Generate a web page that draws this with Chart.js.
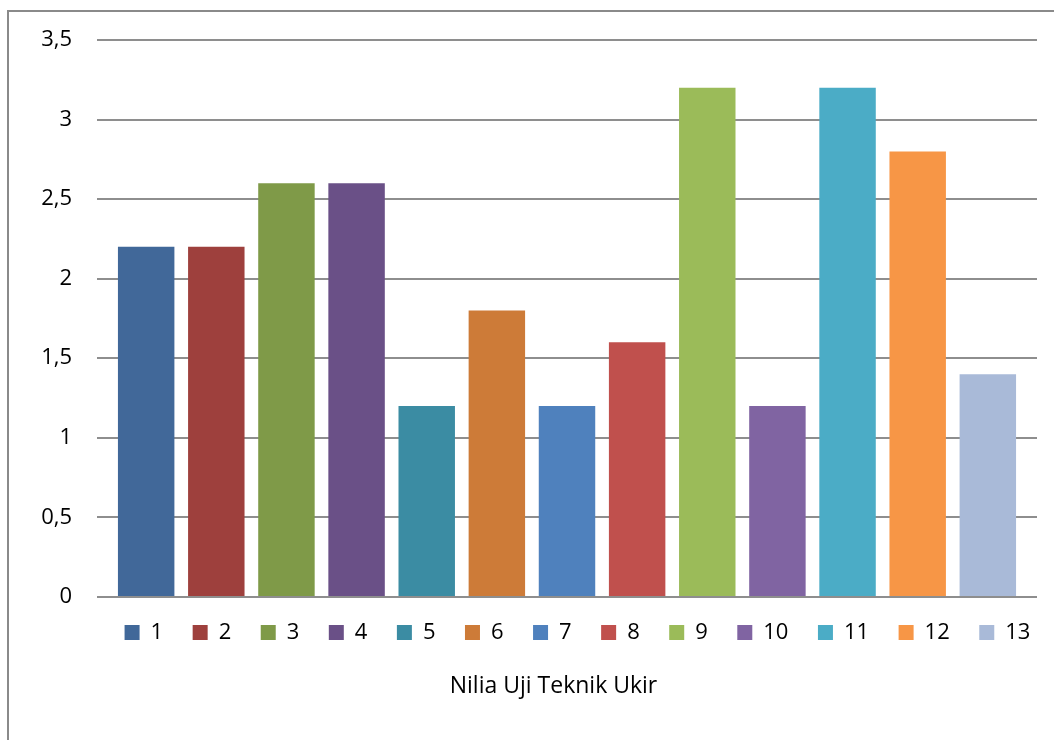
<!DOCTYPE html>
<html>
<head>
<meta charset="utf-8">
<script src="https://cdn.jsdelivr.net/npm/chart.js@4.4.1/dist/chart.umd.min.js"></script>
<style>
    html, body { margin: 0; padding: 0; background: #ffffff; overflow: hidden; }
    #wrap { position: relative; width: 1054px; height: 740px; }
    #frame {
        position: absolute; left: 7px; top: 10px; width: 1200px; height: 900px;
        border: 2px solid #8a8a8a; pointer-events: none;
    }
    canvas { position: absolute; left: 0; top: 0; }
</style>
</head>
<body>
<div id="wrap">
    <canvas id="barChart" width="1054" height="740"></canvas>
    <div id="frame"></div>
</div>
<script>
// Chart data
const seriesNames = ['1', '2', '3', '4', '5', '6', '7', '8', '9', '10', '11', '12', '13'];
const seriesValues = [2.2, 2.2, 2.6, 2.6, 1.2, 1.8, 1.2, 1.6, 3.2, 1.2, 3.2, 2.8, 1.4];
const seriesColors = ['#416899', '#9e403d', '#7f9a48', '#6a5087', '#3b8ca3', '#cd7b38', '#4f81bd',
    '#c0504d', '#9bbb59', '#8064a2', '#4bacc6', '#f79646', '#a9bad8'];
const yTicks = [0, 0.5, 1, 1.5, 2, 2.5, 3, 3.5];
const chartTitle = 'Nilia Uji Teknik Ukir';

const fontFamily = "'Open Sans', 'DejaVu Sans', sans-serif";

// one dataset per series, all in a single category (Excel style)
const datasets = seriesNames.map((name, i) => ({
    label: name,
    data: [seriesValues[i]],
    backgroundColor: seriesColors[i],
    borderWidth: 0,
    barPercentage: 0.805,
    categoryPercentage: 0.97
}));

// shift legend and title to where the original sits (frame is wider than the page)
const boxNudge = {
    id: 'boxNudge',
    afterLayout(chart) {
        const lg = chart.legend;
        lg.left += 59;
        lg.right += 59;
        lg.top -= 5;
        lg.bottom -= 5;
        const tt = chart.titleBlock;
        if (tt) {
            tt.left += 35;
            tt.right += 35;
        }
    }
};

const config = {
    type: 'bar',
    data: {
        labels: [''],
        datasets: datasets
    },
    options: {
        responsive: false,
        animation: false,
        layout: {
            padding: { top: 40, right: 17, bottom: 40, left: 0 }
        },
        plugins: {
            legend: {
                position: 'bottom',
                labels: {
                    boxWidth: 15,
                    boxHeight: 15,
                    padding: 29.5,
                    color: '#000000',
                    font: { family: fontFamily, size: 22 }
                }
            },
            title: {
                display: true,
                position: 'bottom',
                text: chartTitle,
                color: '#000000',
                font: { family: fontFamily, size: 23, weight: 'normal' },
                padding: { top: 14, bottom: 0 }
            },
            tooltip: { enabled: false }
        },
        scales: {
            x: {
                display: false
            },
            y: {
                min: 0,
                max: 3.5,
                afterFit(scale) { scale.width = 97; },
                afterBuildTicks(scale) { scale.ticks = yTicks.map(v => ({ value: v })); },
                border: { display: false },
                grid: {
                    color: '#8e8e8e',
                    lineWidth: 2,
                    drawTicks: false
                },
                ticks: {
                    padding: 25,
                    color: '#000000',
                    font: { family: fontFamily, size: 22 },
                    callback: v => String(v).replace('.', ',')
                }
            }
        }
    },
    plugins: [boxNudge]
};

const barChart = new Chart(document.getElementById('barChart'), config);
</script>
</body>
</html>
